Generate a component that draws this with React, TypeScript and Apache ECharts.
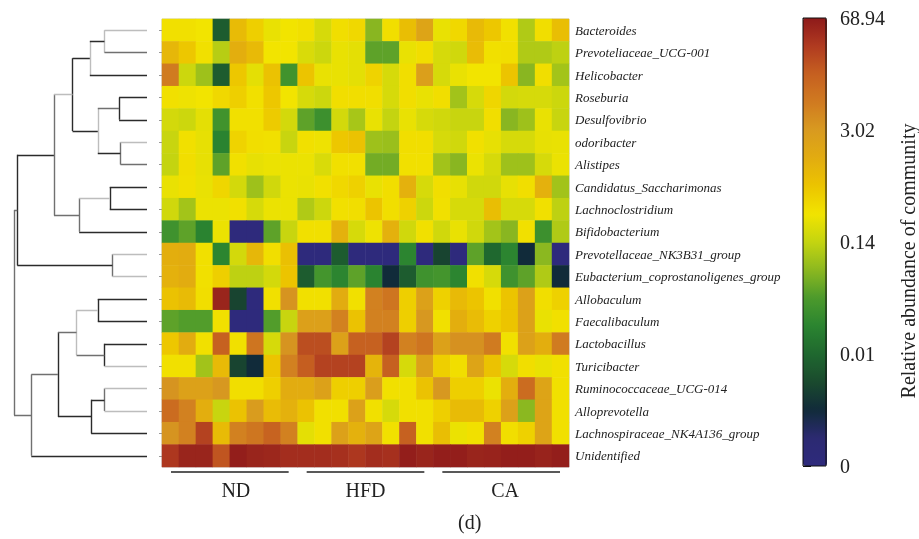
import React, { useEffect, useRef } from "react";
import * as echarts from "echarts";

const FONT = "'Liberation Serif', 'DejaVu Serif', serif";

const taxa = [
  "Bacteroides",
  "Prevoteliaceae_UCG-001",
  "Helicobacter",
  "Roseburia",
  "Desulfovibrio",
  "odoribacter",
  "Alistipes",
  "Candidatus_Saccharimonas",
  "Lachnoclostridium",
  "Bifidobacterium",
  "Prevotellaceae_NK3B31_group",
  "Eubacterium_coprostanoligenes_group",
  "Allobaculum",
  "Faecalibaculum",
  "Lactobacillus",
  "Turicibacter",
  "Ruminococcaceae_UCG-014",
  "Alloprevotella",
  "Lachnospiraceae_NK4A136_group",
  "Unidentified",
];

const groups = ["ND", "HFD", "CA"];
const samplesPerGroup = 8;

const ndValues = [
  [0.33, 0.33, 0.3, 0.009, 0.88, 0.5, 0.26, 0.3],
  [1.0, 0.6, 0.33, 0.12, 1.3, 0.9, 0.3, 0.3],
  [6.5, 0.16, 0.09, 0.009, 0.6, 0.24, 0.7, 0.03],
  [0.33, 0.28, 0.3, 0.4, 0.5, 0.33, 0.6, 0.3],
  [0.18, 0.16, 0.24, 0.03, 0.33, 0.33, 0.55, 0.18],
  [0.15, 0.33, 0.25, 0.019, 0.45, 0.35, 0.33, 0.15],
  [0.14, 0.35, 0.25, 0.045, 0.33, 0.25, 0.27, 0.27],
  [0.26, 0.33, 0.26, 0.42, 0.18, 0.09, 0.17, 0.27],
  [0.17, 0.095, 0.27, 0.27, 0.33, 0.19, 0.27, 0.27],
  [0.029, 0.045, 0.019, 0.27, 0, 0, 0.045, 0.15],
  [1.3, 1.4, 0.33, 0.02, 0.18, 1.0, 0.35, 0.75],
  [1.2, 1.4, 0.33, 0.5, 0.13, 0.13, 0.18, 0.65],
  [0.7, 0.88, 0.35, 53, 0.007, 0, 0.33, 3.5],
  [0.045, 0.04, 0.04, 0.33, 0, 0, 0.04, 0.15],
  [0.6, 1.4, 0.33, 14, 0.33, 7.7, 0.19, 3.5],
  [0.33, 0.33, 0.094, 0.9, 0.007, 0.005, 0.65, 5.6],
  [3.5, 2.2, 2.2, 3.2, 0.35, 0.35, 0.5, 1.4],
  [10, 5.6, 1.3, 0.15, 0.7, 2.8, 0.85, 1.2],
  [3.5, 5.6, 27, 0.88, 5.6, 7.5, 13, 5.6],
  [34, 53, 53, 18, 62, 53, 50, 43],
];

const hfdValues = [
  [0.33, 0.19, 0.35, 0.4, 0.07, 0.35, 0.8, 2.0],
  [0.2, 0.16, 0.26, 0.24, 0.045, 0.045, 0.26, 0.35],
  [0.65, 0.26, 0.26, 0.24, 0.45, 0.19, 0.35, 2.4],
  [0.19, 0.16, 0.35, 0.35, 0.35, 0.19, 0.35, 0.26],
  [0.045, 0.028, 0.18, 0.1, 0.26, 0.14, 0.26, 0.19],
  [0.33, 0.28, 0.6, 0.7, 0.09, 0.085, 0.35, 0.35],
  [0.27, 0.2, 0.33, 0.33, 0.056, 0.056, 0.33, 0.33],
  [0.26, 0.33, 0.4, 0.48, 0.26, 0.35, 1.2, 0.19],
  [0.11, 0.16, 0.33, 0.35, 0.65, 0.35, 0.48, 0.16],
  [0.33, 0.33, 1.2, 0.19, 0.28, 1.2, 0.17, 0.33],
  [0, 0, 0.009, 0, 0, 0, 0.02, 0],
  [0.009, 0.032, 0.02, 0.045, 0.019, 0.005, 0.009, 0.029],
  [0.33, 0.33, 1.4, 0.33, 5.6, 7.7, 0.5, 2.2],
  [2.3, 2.3, 5.6, 0.7, 5.6, 5.6, 0.5, 3.2],
  [21, 21, 2.2, 14, 14, 27, 5.6, 7.7],
  [15, 27, 27, 27, 1.1, 14, 0.19, 2.2],
  [1.4, 2.2, 0.5, 0.5, 2.5, 0.33, 0.33, 0.7],
  [0.7, 0.33, 0.33, 2.2, 0.33, 0.19, 0.33, 0.33],
  [0.24, 0.33, 2.2, 1.2, 2.0, 0.33, 14, 0.33],
  [43, 43, 40, 34, 43, 40, 62, 53],
];

const caValues = [
  [0.26, 0.4, 0.9, 0.6, 0.33, 0.11, 0.35, 0.8],
  [0.19, 0.17, 0.85, 0.33, 0.35, 0.11, 0.11, 0.13],
  [0.19, 0.26, 0.3, 0.3, 0.65, 0.07, 0.35, 0.095],
  [0.35, 0.094, 0.19, 0.42, 0.18, 0.19, 0.19, 0.16],
  [0.17, 0.15, 0.15, 0.35, 0.07, 0.09, 0.26, 0.15],
  [0.19, 0.17, 0.33, 0.25, 0.19, 0.19, 0.25, 0.26],
  [0.094, 0.07, 0.27, 0.19, 0.09, 0.09, 0.19, 0.27],
  [0.35, 0.25, 0.17, 0.17, 0.25, 0.35, 1.2, 0.094],
  [0.33, 0.19, 0.19, 0.8, 0.19, 0.19, 0.33, 0.13],
  [0.17, 0.26, 0.17, 0.095, 0.07, 0.33, 0.028, 0.11],
  [0.007, 0, 0.045, 0.01, 0.02, 0.005, 0.072, 0],
  [0.032, 0.02, 0.33, 0.19, 0.029, 0.045, 0.11, 0.005],
  [0.48, 0.9, 0.65, 0.33, 0.65, 2.2, 0.35, 0.48],
  [0.33, 1.3, 0.85, 0.48, 0.65, 2.2, 0.26, 0.33],
  [2.2, 3.8, 3.8, 6.5, 0.33, 2.2, 1.3, 6.5],
  [0.5, 0.35, 2.0, 0.7, 0.19, 0.35, 0.26, 0.33],
  [3.2, 0.5, 0.5, 0.27, 1.3, 10, 2.0, 0.33],
  [0.5, 0.88, 0.88, 0.48, 2.2, 0.072, 2.0, 0.33],
  [0.8, 0.27, 0.33, 5.6, 0.35, 0.48, 2.0, 0.33],
  [62, 62, 53, 55, 62, 62, 55, 62],
];

// colour-scale ticks (equally spaced on the colour bar)
const scaleTicks = [0, 0.01, 0.14, 3.02, 68.94];
const scaleTickLabels = ["0", "0.01", "0.14", "3.02", "68.94"];

// dendrogram merges: [childA, childB, height]; leaves are 0..19, merge k is node 20+k
const merges = [
  [0, 1, 0.32],
  [20, 2, 0.43],
  [3, 4, 0.21],
  [5, 6, 0.2],
  [22, 23, 0.37],
  [21, 24, 0.56],
  [7, 8, 0.28],
  [26, 9, 0.51],
  [25, 27, 0.7],
  [10, 11, 0.26],
  [28, 29, 0.975],
  [12, 13, 0.37],
  [14, 15, 0.32],
  [31, 32, 0.53],
  [16, 17, 0.32],
  [34, 18, 0.42],
  [33, 35, 0.67],
  [36, 19, 0.87],
  [30, 37, 1.0],
];

// line shade per merge: [vertical, link to childA, link to childB]
const mergeShades = [
  ["L", "L", "M"],
  ["L", "D", "D"],
  ["D", "D", "D"],
  ["M", "L", "M"],
  ["L", "M", "D"],
  ["D", "D", "D"],
  ["D", "D", "D"],
  ["M", "L", "D"],
  ["M", "L", "M"],
  ["M", "L", "L"],
  ["D", "D", "D"],
  ["D", "D", "D"],
  ["D", "D", "L"],
  ["L", "L", "M"],
  ["M", "L", "L"],
  ["D", "D", "D"],
  ["D", "M", "D"],
  ["M", "M", "D"],
  ["M", "M", "M"],
];
const shadeColor: Record<string, string> = { D: "#2b2b2b", M: "#707070", L: "#bdbdbd" };

const scaleColors = [
  "#2e2a7c", "#2c2a72", "#112b3a", "#1a4a2e", "#1f682f", "#2a8430", "#4c9a2c",
  "#8cb820", "#c4d410", "#f2e400", "#ecc400", "#e2ac10", "#d89a20", "#d07a20",
  "#c66020", "#b03a20", "#8e1a1a",
];

function toScalePos(v: number): number {
  if (v <= scaleTicks[1]) return v / scaleTicks[1];
  for (let i = 1; i < scaleTicks.length - 1; i++) {
    if (v <= scaleTicks[i + 1]) {
      return i + Math.log(v / scaleTicks[i]) / Math.log(scaleTicks[i + 1] / scaleTicks[i]);
    }
  }
  return scaleTicks.length - 1;
}

export default function App() {
  const ref = useRef<HTMLDivElement>(null);

  useEffect(() => {
    if (!ref.current) return;
    const chart = echarts.init(ref.current, null, { renderer: "svg" });

    const groupValues = [ndValues, hfdValues, caValues];
    const samples: string[] = [];
    groups.forEach((g) => {
      for (let i = 1; i <= samplesPerGroup; i++) samples.push(g + i);
    });

    const heatData: number[][] = [];
    taxa.forEach((_, r) => {
      samples.forEach((_, c) => {
        const v = groupValues[Math.floor(c / samplesPerGroup)][r][c % samplesPerGroup];
        heatData.push([c, r, toScalePos(v), v]);
      });
    });

    // dendrogram segments
    const nodeY: number[] = taxa.map((_, i) => i);
    const nodeH: number[] = taxa.map(() => 0);
    const segs: any[] = [];
    merges.forEach(([a, b, h], k) => {
      const shades = mergeShades[k];
      segs.push({ coords: [[h, nodeY[a]], [h, nodeY[b]]], lineStyle: { color: shadeColor[shades[0]] } });
      segs.push({ coords: [[nodeH[a], nodeY[a]], [h, nodeY[a]]], lineStyle: { color: shadeColor[shades[1]] } });
      segs.push({ coords: [[nodeH[b], nodeY[b]], [h, nodeY[b]]], lineStyle: { color: shadeColor[shades[2]] } });
      nodeY.push((nodeY[a] + nodeY[b]) / 2);
      nodeH.push(h);
    });

    const groupRanges = groups.map((_, i) => [i * samplesPerGroup, (i + 1) * samplesPerGroup - 1]);

    const option: any = {
      animation: false,
      title: {
        text: "(d)",
        left: 453,
        top: 507,
        textStyle: { fontFamily: FONT, fontSize: 20, fontWeight: "normal", color: "#222" },
      },
      grid: [
        { left: 162, top: 19, width: 407, height: 448, show: true, borderColor: "#c8c8c8", borderWidth: 1, backgroundColor: "transparent" },
        { left: 14, top: 19, width: 133, height: 448 },
        { left: 803, top: 18, width: 24, height: 448, show: true, borderColor: "#111", borderWidth: 1, backgroundColor: "transparent", z: 10 },
      ],
      xAxis: [
        { type: "category", gridIndex: 0, data: samples, show: false },
        { type: "value", gridIndex: 1, min: 0, max: 1, inverse: true, show: false },
        { type: "value", gridIndex: 2, min: 0, max: 1, show: false },
      ],
      yAxis: [
        {
          type: "category",
          gridIndex: 0,
          data: taxa,
          inverse: true,
          position: "right",
          axisLine: { show: false },
          axisTick: { show: false },
          splitLine: { show: false },
          axisLabel: { fontFamily: FONT, fontStyle: "italic", fontSize: 13, color: "#222", margin: 6 },
        },
        {
          type: "category",
          gridIndex: 0,
          data: taxa,
          inverse: true,
          position: "left",
          axisLine: { show: false },
          axisLabel: { show: false },
          splitLine: { show: false },
          axisTick: { show: true, length: 3, alignWithLabel: true, lineStyle: { color: "#999" } },
        },
        { type: "value", gridIndex: 1, min: -0.5, max: taxa.length - 0.5, inverse: true, show: false },
        {
          type: "value",
          gridIndex: 2,
          min: 0,
          max: scaleTicks.length - 1,
          interval: 1,
          position: "right",
          axisLine: { show: false },
          splitLine: { show: false },
          axisTick: { show: true, length: 8, lineStyle: { color: "#111", width: 1 } },
          axisLabel: {
            formatter: (v: number) => scaleTickLabels[Math.round(v)],
            fontFamily: FONT,
            fontSize: 20,
            color: "#222",
            margin: 14,
          },
          name: "Relative abundance of community",
          nameLocation: "middle",
          nameRotate: 90,
          nameGap: 72,
          nameTextStyle: { fontFamily: FONT, fontSize: 20, color: "#222", padding: [0, 38, 0, 0] },
        },
      ],
      visualMap: {
        type: "continuous",
        seriesIndex: 0,
        dimension: 2,
        min: 0,
        max: scaleTicks.length - 1,
        calculable: false,
        hoverLink: false,
        orient: "vertical",
        left: 803,
        top: 18,
        itemWidth: 24,
        itemHeight: 448,
        padding: 0,
        inRange: { color: scaleColors },
      },
      series: [
        {
          type: "heatmap",
          xAxisIndex: 0,
          yAxisIndex: 0,
          data: heatData,
          silent: true,
          emphasis: { disabled: true },
        },
        {
          type: "lines",
          coordinateSystem: "cartesian2d",
          xAxisIndex: 1,
          yAxisIndex: 2,
          silent: true,
          lineStyle: { width: 1.4, opacity: 1 },
          data: segs,
        },
        {
          type: "custom",
          xAxisIndex: 0,
          yAxisIndex: 0,
          silent: true,
          clip: false,
          encode: { x: [0, 1] },
          data: groupRanges,
          renderItem: (params: any, api: any) => {
            const s = api.value(0);
            const e = api.value(1);
            const p0 = api.coord([s, taxa.length - 1]);
            const p1 = api.coord([e, taxa.length - 1]);
            const size = api.size([1, 1]);
            const w = size[0];
            const y = p0[1] + size[1] / 2 + 5;
            return {
              type: "group",
              children: [
                {
                  type: "line",
                  shape: { x1: p0[0] - w / 2 + 9, y1: y, x2: p1[0] + w / 2 - 9, y2: y },
                  style: { stroke: "#222", lineWidth: 1.6 },
                },
                {
                  type: "text",
                  style: {
                    text: groups[params.dataIndex],
                    x: (p0[0] + p1[0]) / 2 + (params.dataIndex === 0 ? 6 : params.dataIndex === 2 ? 4 : 0),
                    y: y + 18,
                    align: "center",
                    verticalAlign: "middle",
                    fontFamily: FONT,
                    fontSize: 20,
                    fill: "#222",
                  },
                },
              ],
            };
          },
        },
      ],
    };

    chart.setOption(option);
    return () => chart.dispose();
  }, []);

  return <div ref={ref} style={{ position: "fixed", left: 0, top: 0, width: 919, height: 539 }} />;
}
